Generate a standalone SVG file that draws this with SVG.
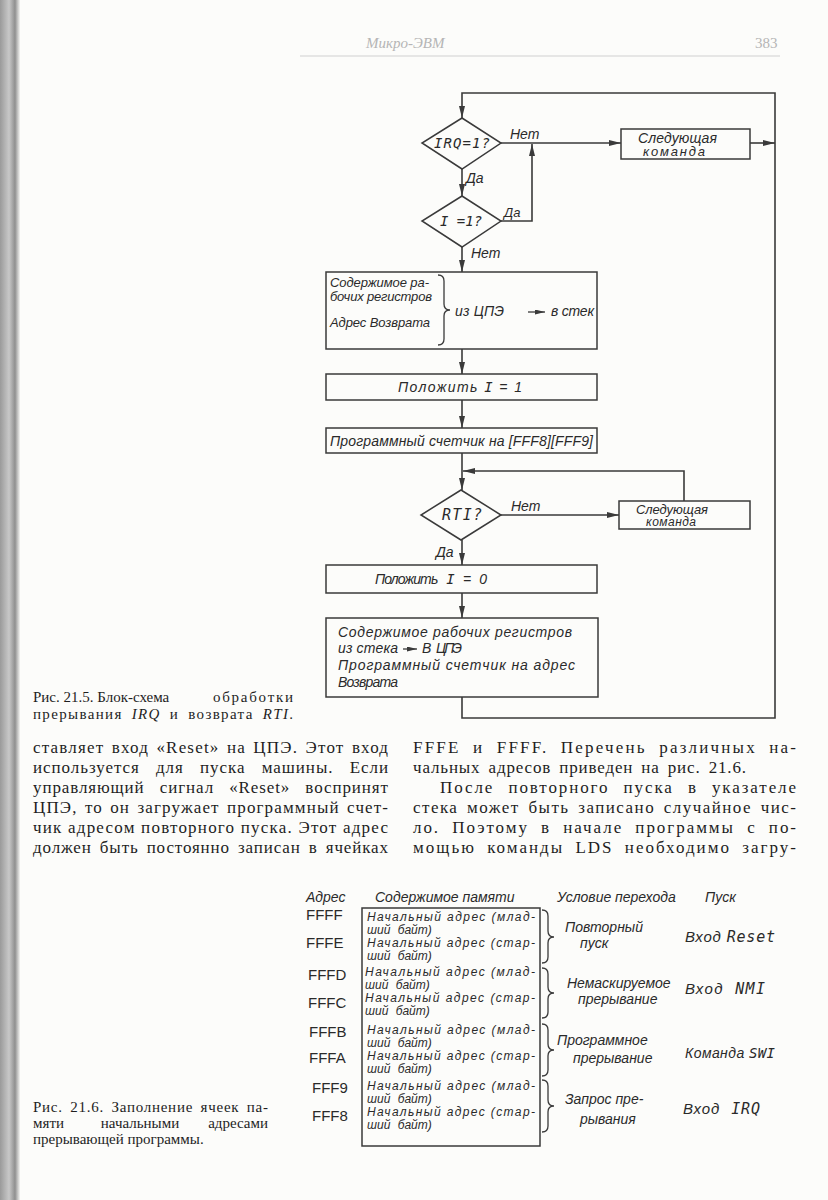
<svg xmlns="http://www.w3.org/2000/svg" width="828" height="1200" viewBox="0 0 828 1200">
<defs>
<linearGradient id="edge" x1="0" y1="0" x2="1" y2="0">
<stop offset="0" stop-color="#9a9a9a"/>
<stop offset="0.45" stop-color="#c8c8c8"/>
<stop offset="0.75" stop-color="#8f8f8f"/>
<stop offset="1" stop-color="#f4f4f2"/>
</linearGradient>
<marker id="ah" viewBox="0 0 12 6" markerWidth="12" markerHeight="6" refX="12" refY="3" orient="auto" markerUnits="userSpaceOnUse">
<path d="M0,0 L12,3 L0,6 z" fill="#3a3a3a"/>
</marker>
<marker id="ahs" viewBox="0 0 10 5" markerWidth="10" markerHeight="5" refX="10" refY="2.5" orient="auto" markerUnits="userSpaceOnUse">
<path d="M0,0 L10,2.5 L0,5 z" fill="#3a3a3a"/>
</marker>
<style>
.ln{fill:none;stroke:#3a3a3a;stroke-width:1.6}
.bx{fill:none;stroke:#3a3a3a;stroke-width:1.5}
.ft{font-family:"Liberation Sans","DejaVu Sans",sans-serif;font-style:italic;fill:#2a2a2a}
.mono{font-family:"DejaVu Sans Mono","Liberation Mono",monospace;font-style:italic;fill:#2a2a2a}
.f14{font-size:14px}
.f13{font-size:13px}
.f12{font-size:12px}
.f15{font-size:15px}
.body{font-family:"Liberation Serif","DejaVu Serif",serif;font-size:17px;fill:#1e1e1e}
.cap{font-family:"Liberation Serif","DejaVu Serif",serif;font-size:15px;fill:#1e1e1e}
.adr{font-family:"Liberation Sans","DejaVu Sans",sans-serif;font-size:15px;fill:#2a2a2a}
.hd{font-family:"Liberation Serif",serif;font-style:italic;font-size:15px;fill:#b5b5b5}
</style>
</defs>
<rect x="0" y="0" width="828" height="1200" fill="#fcfcfa"/>
<rect x="0" y="0" width="20" height="1200" fill="url(#edge)"/>

<g id="header">
<text class="hd" x="366" y="48">Микро-ЭВМ</text>
<text class="hd" x="755" y="48" style="font-style:normal">383</text>
<line x1="300" y1="56" x2="780" y2="56" stroke="#d0d0d0" stroke-width="1"/>
</g>

<g id="connectors">
<path class="ln" d="M462,697 V718 H775 V93 H462 V118" marker-end="url(#ah)"/>
<path class="ln" d="M501,143 H621" marker-end="url(#ah)"/>
<path class="ln" d="M750,143 H775" marker-end="url(#ah)"/>
<path class="ln" d="M462,169 V196" marker-end="url(#ah)"/>
<path class="ln" d="M501,221 H532 V144" marker-end="url(#ah)"/>
<path class="ln" d="M462,247 V272" marker-end="url(#ah)"/>
<path class="ln" d="M462,349 V374" marker-end="url(#ah)"/>
<path class="ln" d="M462,400 V428" marker-end="url(#ah)"/>
<path class="ln" d="M462,453 V490" marker-end="url(#ah)"/>
<path class="ln" d="M684,501 V471 H463" marker-end="url(#ah)"/>
<path class="ln" d="M501,515 H619" marker-end="url(#ah)"/>
<path class="ln" d="M462,540 V565" marker-end="url(#ah)"/>
<path class="ln" d="M462,593 V618" marker-end="url(#ah)"/>
<text class="ft f14" x="510" y="139">Нет</text>
<text class="ft f14" x="466" y="183">Да</text>
<text class="ft f13" x="504" y="217">Да</text>
<text class="ft f14" x="471" y="258">Нет</text>
<text class="ft f14" x="511" y="511">Нет</text>
<text class="ft f14" x="436" y="557">Да</text>
</g>

<g id="irq">
<polygon class="bx" points="462,118 501,143 462,169 422,143"/>
<text class="mono f14" x="434" y="148" textLength="56">IRQ=1?</text>
</g>
<g id="next1">
<rect class="bx" x="621" y="129" width="129" height="30"/>
<text class="ft f14" x="638" y="143" textLength="79">Следующая</text>
<text class="ft f13" x="643" y="156" textLength="62">команда</text>
</g>
<g id="i1">
<polygon class="bx" points="462,196 501,221 462,247 422,221"/>
<text class="mono f14" x="461" y="226" text-anchor="middle">I =1?</text>
</g>
<g id="save">
<rect class="bx" x="326" y="272" width="271" height="77"/>
<text class="ft f13" x="330" y="287" textLength="99">Содержимое ра-</text>
<text class="ft f13" x="330" y="301" textLength="102">бочих регистров</text>
<text class="ft f13" x="330" y="327" textLength="100">Адрес Возврата</text>
<path class="ln" style="stroke-width:1.3" d="M438,275 Q444,275 444,281 V304 Q444,310 450,310 Q444,310 444,316 V339 Q444,345 438,345"/>
<text class="ft f14" x="455" y="316" textLength="49">из ЦПЭ</text>
<path class="ln" style="stroke-width:1.3" d="M528,312 H545" marker-end="url(#ahs)"/>
<text class="ft f14" x="551" y="316" textLength="43">в стек</text>
</g>
<g id="set1">
<rect class="bx" x="326" y="374" width="271" height="26"/>
<text class="ft f14" x="398" y="392" textLength="124">Положить <tspan class="mono">I</tspan> = 1</text>
</g>
<g id="pc">
<rect class="bx" x="326" y="428" width="271" height="25"/>
<text class="ft f14" x="330" y="446" textLength="263">Программный счетчик на [FFF8][FFF9]</text>
</g>
<g id="rti">
<polygon class="bx" points="461,490 501,515 461,540 421,515"/>
<text class="mono f15" x="442" y="520" textLength="40">RTI?</text>
</g>
<g id="next2">
<rect class="bx" x="619" y="501" width="131" height="28"/>
<text class="ft f13" x="636" y="514" textLength="72">Следующая</text>
<text class="ft f12" x="646" y="526" textLength="50">команда</text>
</g>
<g id="set0">
<rect class="bx" x="326" y="565" width="271" height="28"/>
<text class="ft f14" x="375" y="584" textLength="112" word-spacing="6">Положить <tspan class="mono">I</tspan> = 0</text>
</g>
<g id="restore">
<rect class="bx" x="326" y="618" width="272" height="79"/>
<text class="ft f14" x="338" y="637" textLength="234">Содержимое рабочих регистров</text>
<text class="ft f14" x="338" y="653" textLength="60">из стека</text>
<path class="ln" style="stroke-width:1.3" d="M403,649 H417" marker-end="url(#ahs)"/>
<text class="ft f14" x="422" y="653" textLength="40" word-spacing="5">В ЦПЭ</text>
<text class="ft f14" x="338" y="670" textLength="237">Программный счетчик на адрес</text>
<text class="ft f14" x="338" y="687" textLength="60">Возврата</text>
</g>

<g id="caption215">
<text class="cap" x="33" y="702">Рис. 21.5. Блок-схема</text>
<text class="cap" x="213" y="702" textLength="80">обработки</text>
<text class="cap" x="33" y="719" textLength="260" word-spacing="4">прерывания <tspan font-style="italic">IRQ</tspan> и возврата <tspan font-style="italic">RTI</tspan>.</text>
</g>

<g id="bodytext">
<text class="body" x="33" y="753" textLength="355" word-spacing="2">ставляет вход «Reset» на ЦПЭ. Этот вход</text>
<text class="body" x="33" y="773" textLength="355" word-spacing="11">используется для пуска машины. Если</text>
<text class="body" x="33" y="793" textLength="355" word-spacing="10">управляющий сигнал «Reset» воспринят</text>
<text class="body" x="33" y="813" textLength="355" word-spacing="2">ЦПЭ, то он загружает программный счет-</text>
<text class="body" x="33" y="833" textLength="355">чик адресом повторного пуска. Этот адрес</text>
<text class="body" x="33" y="853" textLength="355" word-spacing="3">должен быть постоянно записан в ячейках</text>
<text class="body" x="413" y="753" textLength="383" word-spacing="6">FFFE и FFFF. Перечень различных на-</text>
<text class="body" x="413" y="773" textLength="333" word-spacing="3">чальных адресов приведен на рис. 21.6.</text>
<text class="body" x="440" y="793" textLength="356" word-spacing="8">После повторного пуска в указателе</text>
<text class="body" x="413" y="813" textLength="383" word-spacing="3">стека может быть записано случайное чис-</text>
<text class="body" x="413" y="833" textLength="383" word-spacing="6">ло. Поэтому в начале программы с по-</text>
<text class="body" x="413" y="853" textLength="383" word-spacing="5">мощью команды LDS необходимо загру-</text>
</g>

<g id="table216">
<text class="ft f14" x="306" y="902">Адрес</text>
<text class="ft f14" x="375" y="902">Содержимое памяти</text>
<text class="ft f14" x="557" y="902">Условие перехода</text>
<text class="ft f14" x="705" y="902">Пуск</text>
<rect class="bx" x="362" y="908" width="178" height="238"/>
<text class="adr" x="306" y="920">FFFF</text>
<text class="adr" x="306" y="948">FFFE</text>
<text class="adr" x="308" y="980">FFFD</text>
<text class="adr" x="308" y="1008">FFFC</text>
<text class="adr" x="309" y="1037">FFFB</text>
<text class="adr" x="309" y="1063">FFFA</text>
<text class="adr" x="312" y="1093">FFF9</text>
<text class="adr" x="312" y="1121">FFF8</text>
<g class="ft f12">
<text x="367" y="921" textLength="168">Начальный адрес (млад-</text>
<text x="367" y="934" word-spacing="4">ший байт)</text>
<text x="367" y="947" textLength="168">Начальный  адрес (стар-</text>
<text x="367" y="960" word-spacing="4">ший байт)</text>
<text x="365" y="976" textLength="170">Начальный адрес (млад-</text>
<text x="365" y="989" word-spacing="4">ший байт)</text>
<text x="365" y="1002" textLength="170">Начальный адрес (стар-</text>
<text x="365" y="1015" word-spacing="4">ший байт)</text>
<text x="367" y="1034" textLength="168">Начальный адрес (млад-</text>
<text x="367" y="1047" word-spacing="4">ший байт)</text>
<text x="367" y="1060" textLength="168">Начальный  адрес (стар-</text>
<text x="367" y="1073" word-spacing="4">ший байт)</text>
<text x="367" y="1090" textLength="168">Начальный адрес (млад-</text>
<text x="367" y="1103" word-spacing="4">ший байт)</text>
<text x="367" y="1116" textLength="168">Начальный адрес (стар-</text>
<text x="367" y="1129" word-spacing="4">ший байт)</text>
</g>
<path class="ln" style="stroke-width:1.3" d="M542,910 Q548,910 548,916 V931 Q548,937 554,937 Q548,937 548,943 V957 Q548,963 542,963"/>
<path class="ln" style="stroke-width:1.3" d="M542,968 Q548,968 548,974 V987 Q548,993 554,993 Q548,993 548,999 V1012 Q548,1018 542,1018"/>
<path class="ln" style="stroke-width:1.3" d="M542,1024 Q548,1024 548,1030 V1044 Q548,1050 554,1050 Q548,1050 548,1056 V1070 Q548,1076 542,1076"/>
<path class="ln" style="stroke-width:1.3" d="M542,1080 Q548,1080 548,1086 V1100 Q548,1106 554,1106 Q548,1106 548,1112 V1126 Q548,1132 542,1132"/>
<g class="ft f14">
<text x="565" y="932">Повторный</text>
<text x="580" y="948">пуск</text>
<text x="567" y="988">Немаскируемое</text>
<text x="578" y="1004">прерывание</text>
<text x="557" y="1045">Программное</text>
<text x="573" y="1063">прерывание</text>
<text x="565" y="1104">Запрос пре-</text>
<text x="580" y="1124">рывания</text>
<text x="685" y="942" textLength="90" font-size="15">Вход <tspan class="mono">Reset</tspan></text>
<text x="685" y="994" textLength="80" font-size="15" word-spacing="6">Вход <tspan class="mono">NMI</tspan></text>
<text x="685" y="1058" textLength="90">Команда <tspan class="mono">SWI</tspan></text>
<text x="683" y="1114" textLength="77" font-size="15" word-spacing="6">Вход <tspan class="mono">IRQ</tspan></text>
</g>
</g>

<g id="caption216">
<text class="cap" x="33" y="1112" textLength="235" word-spacing="3">Рис. 21.6. Заполнение ячеек па-</text>
<text class="cap" x="33" y="1128">мяти</text>
<text class="cap" x="140" y="1128" text-anchor="middle">начальными</text>
<text class="cap" x="268" y="1128" text-anchor="end">адресами</text>
<text class="cap" x="33" y="1144">прерывающей программы.</text>
</g>
</svg>
